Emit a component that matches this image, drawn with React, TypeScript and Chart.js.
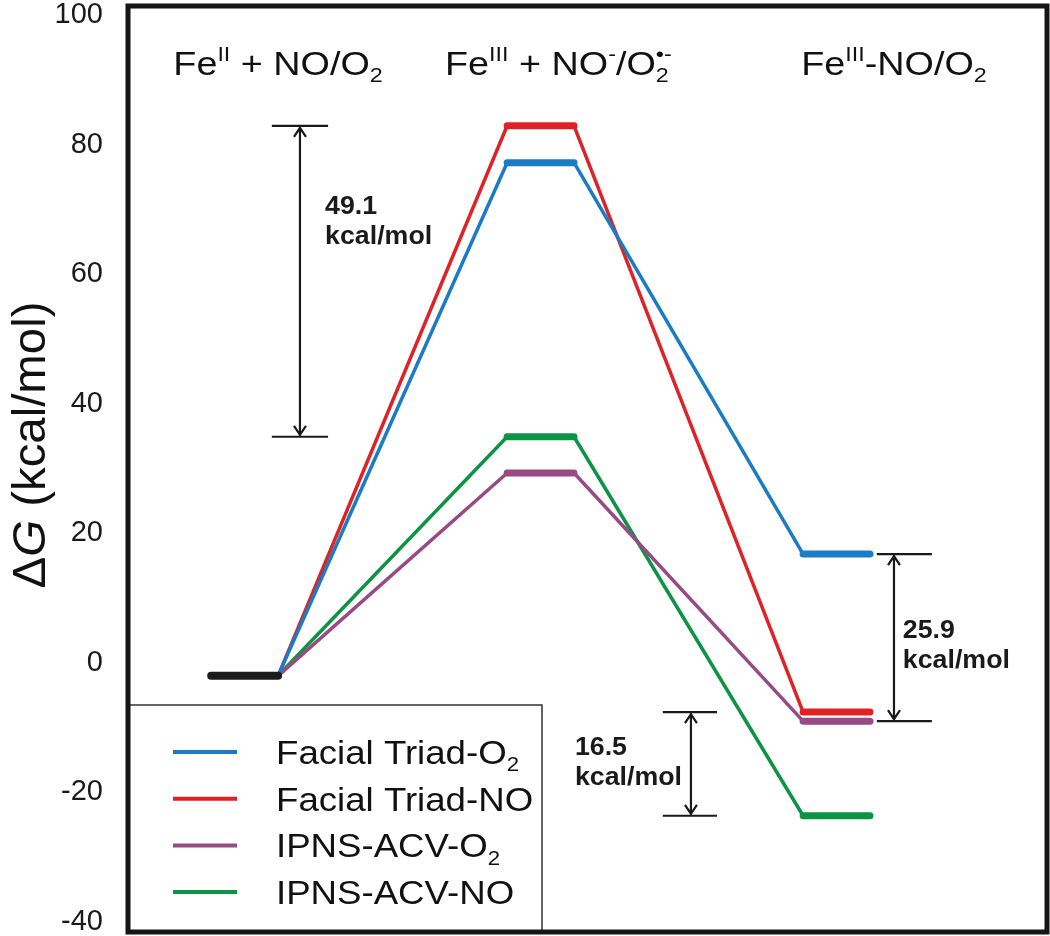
import React, { useEffect, useRef } from "react";
import { Chart, registerables } from "chart.js";

Chart.register(...registerables);

type Part = { t: string; sup?: string; sub?: string; italic?: boolean };

// ---- data ----
const stateX = [1, 2, 3];
const stateLabels: Part[][] = [
  [{ t: "Fe", sup: "II" }, { t: " + NO/O", sub: "2" }],
  [{ t: "Fe", sup: "III" }, { t: " + NO", sup: "-" }, { t: "/O", sub: "2", sup: "\u2022-" }],
  [{ t: "Fe", sup: "III" }, { t: "-NO/O", sub: "2" }],
];
const stateLabelX = [1.113, 2.06, 3.194];
const startLevel = -2.0;
const seriesNames: Part[][] = [
  [{ t: "Facial Triad-O", sub: "2" }],
  [{ t: "Facial Triad-NO" }],
  [{ t: "IPNS-ACV-O", sub: "2" }],
  [{ t: "IPNS-ACV-NO" }],
];
const seriesColors = ["#1a7cc4", "#df2225", "#974a84", "#0c9444"];
const intermediateValues = [77.2, 82.9, 29.3, 34.9];
const productValues = [16.8, -7.6, -9.0, -23.6];
const yTicks = [-40, -20, 0, 20, 40, 60, 80, 100];
const yMin = -41.54;
const yMax = 101.39;
const xMin = 0.606;
const xMax = 3.711;
const levelHalfWidth = 0.113;

// gap annotations: [series a, stage], [series b, stage]
const gapLabels = ["49.1", "25.9", "16.5"];
const gapFrom = [
  [1, 1],
  [0, 2],
  [1, 2],
];
const gapTo = [
  [3, 1],
  [2, 2],
  [3, 2],
];
const gapBarX = [
  [1.092, 1.282],
  [3.136, 3.322],
  [2.413, 2.596],
];
const gapLineX = [1.187, 3.194, 2.508];
const gapTextX = [1.272, 3.224, 2.116];
const gapTextY = [69.3, 3.84, -14.2];

const FONT = "'Liberation Sans', Arial, Helvetica, sans-serif";

function valueAt(series: number, stage: number) {
  if (stage === 0) return startLevel;
  if (stage === 1) return intermediateValues[series];
  return productValues[series];
}

function measureRich(ctx: CanvasRenderingContext2D, parts: Part[], size: number, weight = "normal") {
  const small = Math.round(size * 0.62);
  let w = 0;
  for (const p of parts) {
    ctx.font = `${p.italic ? "italic " : ""}${weight} ${size}px ${FONT}`;
    w += ctx.measureText(p.t).width;
    ctx.font = `${weight} ${small}px ${FONT}`;
    const ws = p.sup ? ctx.measureText(p.sup).width : 0;
    const wb = p.sub ? ctx.measureText(p.sub).width : 0;
    w += Math.max(ws, wb);
  }
  return w;
}

function drawRich(
  ctx: CanvasRenderingContext2D,
  parts: Part[],
  x: number,
  y: number,
  size: number,
  align: "left" | "center",
  weight = "normal",
  sx = 1
) {
  const small = Math.round(size * 0.62);
  const w = measureRich(ctx, parts, size, weight) * sx;
  const x0 = align === "center" ? x - w / 2 : x;
  ctx.save();
  ctx.translate(x0, y);
  ctx.scale(sx, 1);
  let cx = 0;
  ctx.textAlign = "left";
  ctx.textBaseline = "alphabetic";
  for (const p of parts) {
    ctx.font = `${p.italic ? "italic " : ""}${weight} ${size}px ${FONT}`;
    ctx.fillText(p.t, cx, 0);
    cx += ctx.measureText(p.t).width;
    ctx.font = `${weight} ${small}px ${FONT}`;
    let adv = 0;
    if (p.sup) {
      ctx.fillText(p.sup, cx, -size * 0.4);
      adv = Math.max(adv, ctx.measureText(p.sup).width);
    }
    if (p.sub) {
      ctx.fillText(p.sub, cx, size * 0.22);
      adv = Math.max(adv, ctx.measureText(p.sub).width);
    }
    cx += adv;
  }
  ctx.restore();
}

const overlayPlugin = {
  id: "overlay",
  afterDatasetsDraw(chart: any) {
    const ctx: CanvasRenderingContext2D = chart.ctx;
    const xs = chart.scales.x;
    const ys = chart.scales.y;
    const area = chart.chartArea;
    ctx.save();
    ctx.fillStyle = "#111";
    ctx.strokeStyle = "#111";

    // state labels
    stateLabels.forEach((parts, i) => {
      drawRich(ctx, parts, xs.getPixelForValue(stateLabelX[i]), 75, 34, "center", "normal", 1.11);
    });

    // gap markers
    ctx.strokeStyle = "#1a1a1a";
    ctx.fillStyle = "#1a1a1a";
    gapLabels.forEach((lab, i) => {
      const y1 = ys.getPixelForValue(valueAt(gapFrom[i][0], gapFrom[i][1]));
      const y2 = ys.getPixelForValue(valueAt(gapTo[i][0], gapTo[i][1]));
      const bx1 = xs.getPixelForValue(gapBarX[i][0]);
      const bx2 = xs.getPixelForValue(gapBarX[i][1]);
      const lx = xs.getPixelForValue(gapLineX[i]);
      ctx.lineWidth = 2.2;
      ctx.beginPath();
      ctx.moveTo(bx1, y1);
      ctx.lineTo(bx2, y1);
      ctx.moveTo(bx1, y2);
      ctx.lineTo(bx2, y2);
      ctx.moveTo(lx, y1 + 2);
      ctx.lineTo(lx, y2 - 2);
      // arrowheads (open)
      ctx.moveTo(lx - 6, y1 + 11);
      ctx.lineTo(lx, y1 + 2);
      ctx.lineTo(lx + 6, y1 + 11);
      ctx.moveTo(lx - 6, y2 - 11);
      ctx.lineTo(lx, y2 - 2);
      ctx.lineTo(lx + 6, y2 - 11);
      ctx.stroke();
      const tx = xs.getPixelForValue(gapTextX[i]);
      const ty = ys.getPixelForValue(gapTextY[i]);
      drawRich(ctx, [{ t: lab }], tx, ty, 25, "left", "bold", 1.07);
      drawRich(ctx, [{ t: "kcal/mol" }], tx, ty + 30, 25, "left", "bold", 1.07);
    });

    // legend box
    const lx0 = area.left;
    const ly0 = 705;
    const lx1 = 542;
    const ly1 = area.bottom;
    ctx.fillStyle = "#ffffff";
    ctx.fillRect(lx0, ly0, lx1 - lx0, ly1 - ly0);
    ctx.strokeStyle = "#333";
    ctx.lineWidth = 1.5;
    ctx.strokeRect(lx0, ly0, lx1 - lx0, ly1 - ly0);
    seriesNames.forEach((parts, i) => {
      const yy = 752 + i * 46.7;
      ctx.strokeStyle = seriesColors[i];
      ctx.lineWidth = 4;
      ctx.beginPath();
      ctx.moveTo(173, yy);
      ctx.lineTo(237, yy);
      ctx.stroke();
      ctx.fillStyle = "#111";
      drawRich(ctx, parts, 276, yy + 12, 33, "left", "normal", 1.11);
    });

    // plot frame
    ctx.strokeStyle = "#151515";
    ctx.lineWidth = 5;
    ctx.strokeRect(area.left, area.top, area.right - area.left, area.bottom - area.top);

    // y axis title
    ctx.save();
    ctx.translate(45, 445);
    ctx.rotate(-Math.PI / 2);
    ctx.fillStyle = "#111";
    drawRich(
      ctx,
      [{ t: "\u0394" }, { t: "G", italic: true }, { t: " (kcal/mol)" }],
      0,
      0,
      46,
      "center",
      "normal",
      1.03
    );
    ctx.restore();

    ctx.restore();
  },
};

export default function App() {
  const ref = useRef<HTMLCanvasElement | null>(null);
  useEffect(() => {
    if (!ref.current) return;
    document.body.style.margin = "0";
    const datasets: any[] = [];
    datasets.push({
      label: "start",
      data: [
        { x: stateX[0] - levelHalfWidth, y: startLevel },
        { x: stateX[0] + levelHalfWidth, y: startLevel },
      ],
      borderColor: "#1b1b1b",
      borderWidth: 8,
      borderCapStyle: "round",
      pointRadius: 0,
      order: 0,
    });
    seriesColors.forEach((c, i) => {
      const data = [
        { x: stateX[0] + levelHalfWidth, y: startLevel },
        { x: stateX[1] - levelHalfWidth, y: intermediateValues[i] },
        { x: stateX[1] + levelHalfWidth, y: intermediateValues[i] },
        { x: stateX[2] - levelHalfWidth, y: productValues[i] },
        { x: stateX[2] + levelHalfWidth, y: productValues[i] },
      ];
      datasets.push({
        label: `s${i}`,
        data,
        borderColor: c,
        borderWidth: 3.5,
        borderCapStyle: "round",
        borderJoinStyle: "round",
        pointRadius: 0,
        order: 1 + i,
        segment: {
          borderWidth: (ctx: any) => (ctx.p0DataIndex % 2 === 1 ? 7 : 3.5),
        },
      });
    });
    const chart = new Chart(ref.current, {
      type: "line",
      data: { datasets },
      options: {
        animation: false,
        responsive: false,
        devicePixelRatio: 1,
        layout: { padding: { left: 0, top: 6, right: 3, bottom: 4 } },
        plugins: { legend: { display: false }, tooltip: { enabled: false } },
        scales: {
          x: {
            type: "linear",
            min: xMin,
            max: xMax,
            display: false,
          },
          y: {
            type: "linear",
            min: yMin,
            max: yMax,
            grid: { display: false, drawTicks: false },
            border: { display: false },
            ticks: {
              padding: 25,
              color: "#1a1a1a",
              font: { family: FONT, size: 29 },
            },
            afterBuildTicks: (scale: any) => {
              scale.ticks = yTicks.map((v) => ({ value: v }));
            },
            afterFit: (scale: any) => {
              scale.width = 128;
              scale.paddingTop = 0;
              scale.paddingBottom = 0;
            },
          },
        },
      } as any,
      plugins: [overlayPlugin],
    });
    return () => chart.destroy();
  }, []);
  return (
    <div style={{ position: "absolute", left: 0, top: 0, width: 1050, height: 936 }}>
      <canvas ref={ref} width={1050} height={936} style={{ display: "block" }} />
    </div>
  );
}
